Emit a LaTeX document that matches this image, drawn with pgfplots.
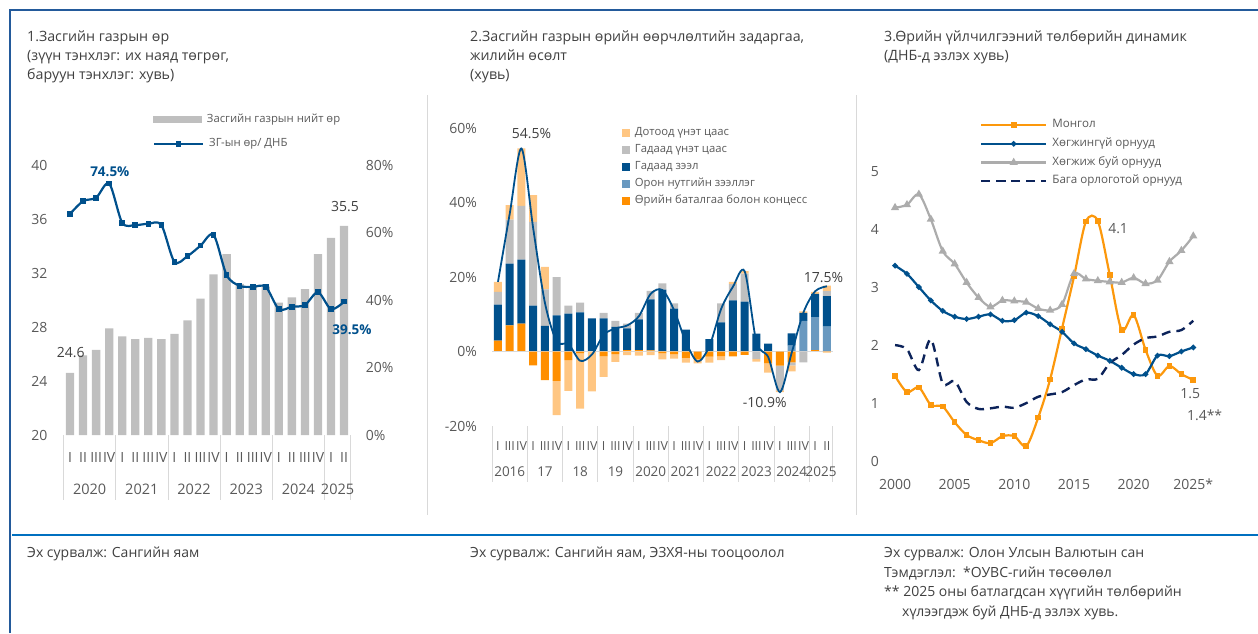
\documentclass[border=0pt]{standalone}
\usepackage{fontspec}
\setmainfont{Open Sans}
\usepackage{pgfplots}
\usepackage{pgfplotstable}
\pgfplotsset{compat=1.18}

\definecolor{txt}{RGB}{64,64,64}
\definecolor{tick}{RGB}{89,89,89}
\definecolor{frameblue}{RGB}{35,90,155}
\definecolor{ruleblue}{RGB}{0,112,192}
\definecolor{sepgrey}{RGB}{217,217,217}
\definecolor{bargrey}{RGB}{191,191,191}
\definecolor{dblue}{RGB}{0,80,140}
\definecolor{lorange}{RGB}{255,198,130}
\definecolor{gorange}{RGB}{255,143,0}
\definecolor{steel}{RGB}{105,153,192}
\definecolor{mnorange}{RGB}{252,152,12}
\definecolor{navy}{RGB}{12,35,90}
\definecolor{lgrey}{RGB}{172,172,172}

% Panel 2: positive parts
\pgfplotstableread{
k G L EL ES D
1 2.9 0 9.7 3.4 2.7
2 7.0 0 16.6 11.8 3.9
3 7.5 0 17.2 14.4 15.4
4 0 0 12.3 22.5 7.2
5 0 0 6.9 9.8 6.0
6 0 0 9.7 10.3 0
7 0 0 10.2 2.1 0
8 0 0 10.5 2.6 0
9 0 0 8.9 0 0
10 0 0 8.9 1.5 0
11 0 0 6.6 1.6 0
12 0.4 0 5.8 1.3 0
13 0.4 0 8.2 1.8 0
14 0.3 0 13.7 2.3 0
15 0 0 16.6 1.7 0
16 0 0 11.5 1.4 0
17 0 0 5.9 0 0
18 0 0 0 0 0
19 0 0 3.3 0 0
20 0 0 7.8 5.1 0
21 0 0 13.7 4.4 0.6
22 0 0 13.4 7.5 0.7
23 0 0 4.8 0 0
24 0 0 2.1 0 0
25 0 0 0 0 0
26 0 1.6 3.3 0 0
27 0 8.2 2.2 0 0.4
28 0.4 8.8 6.3 0 0.5
29 0 6.7 8.2 1.3 1.5
}\posdata

% Panel 2: negative parts
\pgfplotstableread{
k G ES D
1 0 0 0
2 0 0 0
3 0 0 0
4 -3.7 0 0
5 -7.7 0 0
6 -7.9 0 -9.2
7 -2.3 0 -8.3
8 -0.5 0 -14.8
9 0 0 -10.7
10 -1.3 0 -5.5
11 -0.7 0 -2.1
12 0 0 -1.0
13 0 0 -1.1
14 0 0 -1.0
15 -0.5 0 -1.6
16 -0.7 0 -1.2
17 -1.7 0 -1.3
18 -2.1 0 -1.1
19 -1.4 0 -1.6
20 -1.3 0 -1.0
21 -1.3 0 0
22 -0.9 0 0
23 0 -2.0 -0.7
24 -3.2 0 -2.5
25 -3.8 -6.6 -0.5
26 -2.9 -0.8 -1.6
27 0 -2.9 0
28 0 0 0
29 -0.2 0 0
}\negdata

% Panel 2: total growth line
\pgfplotstableread{
k tot
1 18.7
2 37.0
3 54.5
4 33.0
5 13.0
6 2.7
7 2.0
8 -2.5
9 -0.8
10 4.5
11 6.2
12 7.0
13 9.5
14 15.5
15 16.5
16 11.0
17 2.5
18 -2.7
19 1.5
20 11.5
21 17.4
22 21.5
23 2.5
24 -1.5
25 -10.9
26 -0.3
27 10.5
28 16.2
29 17.5
}\totdata

% Panel 3
\pgfplotstableread{
yr mn adv dev low
2000 1.48 3.38 4.38 2.01
2001 1.20 3.24 4.43 1.94
2002 1.28 3.01 4.61 1.58
2003 0.98 2.78 4.18 2.11
2004 0.95 2.60 3.63 1.35
2005 0.68 2.50 3.41 1.39
2006 0.46 2.46 3.09 1.03
2007 0.37 2.50 2.83 0.91
2008 0.32 2.54 2.67 0.92
2009 0.44 2.43 2.78 0.95
2010 0.44 2.44 2.77 0.93
2011 0.27 2.57 2.75 1.01
2012 0.76 2.51 2.64 1.12
2013 1.42 2.37 2.61 1.16
2014 2.30 2.24 2.71 1.20
2015 3.19 2.04 3.24 1.32
2016 4.14 1.94 3.15 1.42
2017 4.15 1.83 3.12 1.43
2018 3.22 1.74 3.10 1.70
2019 2.27 1.62 3.09 1.84
2020 2.53 1.51 3.17 2.02
2021 1.93 1.51 3.07 2.13
2022 1.48 1.83 3.13 2.16
2023 1.65 1.82 3.45 2.24
2024 1.51 1.90 3.64 2.27
2025 1.41 1.97 3.89 2.43
}\pthree

\pgfplotsset{
  common/.style={scale only axis, axis line style={draw=none}, major tick length=0pt,
    tick style={draw=none},
    tick label style={inner sep=0pt, text=tick, font=\fontsize{14}{16}\selectfont},
    /pgf/number format/assume math mode=true},
  p1/.style={common, at={(63.5pt,-435pt)}, anchor=south west, width=287.1pt, height=270pt, xmin=0.5, xmax=22.5},
  p2/.style={common, clip=false, at={(492.1pt,-426pt)}, anchor=south west, width=340.75pt, height=298pt, xmin=0.5, xmax=29.5, ymin=-20, ymax=60},
  lg/.style={legend style={draw=none, fill=none, inner sep=0pt, outer sep=0pt,
     font=\fontsize{11.3}{13}\selectfont, text=tick, column sep=5pt, row sep=0pt,
     nodes={inner sep=0pt, text height=11pt, text depth=6pt}}, legend cell align=left},
}

\begin{document}
\begin{tikzpicture}
\useasboundingbox (0pt,0pt) rectangle (1258pt,-633pt);
% frame
\draw[frameblue, line width=1.8pt] (10pt,-633pt) -- (10pt,-10pt) -- (1258pt,-10pt);
\draw[ruleblue, line width=1.2pt] (12pt,-535pt) -- (1258pt,-535pt);
\draw[sepgrey, line width=0.8pt] (427pt,-95pt) -- (427pt,-515pt);
\draw[sepgrey, line width=0.8pt] (856pt,-95pt) -- (856pt,-515pt);

% headers
\begin{scope}[every node/.style={anchor=base west, inner sep=0pt, text=txt, font=\fontsize{14.2}{16}\selectfont}]
\node at (27pt,-41.5pt) {1.Засгийн газрын өр};
\node at (27pt,-60.5pt) {(зүүн тэнхлэг: их наяд төгрөг,};
\node at (27pt,-79.5pt) {баруун тэнхлэг: хувь)};
\node at (470pt,-41.5pt) {2.Засгийн газрын өрийн өөрчлөлтийн задаргаа,};
\node at (470pt,-60.5pt) {жилийн өсөлт};
\node at (470pt,-79.5pt) {(хувь)};
\node at (884pt,-41.5pt) {3.Өрийн үйлчилгээний төлбөрийн динамик};
\node at (884pt,-60.5pt) {(ДНБ-д эзлэх хувь)};
\end{scope}
\begin{scope}[every node/.style={anchor=base west, inner sep=0pt, text=txt, font=\fontsize{14}{16}\selectfont}]
\node at (27pt,-557.5pt) {Эх сурвалж: Сангийн яам};
\node at (470pt,-557.5pt) {Эх сурвалж: Сангийн яам, ЭЗХЯ-ны тооцоолол};
\node at (884pt,-557.5pt) {Эх сурвалж: Олон Улсын Валютын сан};
\node at (884pt,-577pt) {Тэмдэглэл:\ \ *ОУВС-гийн төсөөлөл};
\node at (884pt,-596.5pt) {** 2025 оны батлагдсан хүүгийн төлбөрийн};
\node at (902pt,-616pt) {хүлээгдэж буй ДНБ-д эзлэх хувь.};
\end{scope}

% ===== Panel 1: bars (left axis)
\begin{axis}[p1, lg, ymin=20, ymax=40, ytick={20,24,28,32,36,40}, yticklabels={20,24,28,32,36,40},
  yticklabel shift=16pt,
  xtick={1,...,22}, xticklabels={I,II,III,IV,I,II,III,IV,I,II,III,IV,I,II,III,IV,I,II,III,IV,I,II},
  xticklabel shift=17pt,
  ybar, bar width=8.3pt,
  legend style={anchor=west, at={(0.3117,1.1667)}},
  legend image code/.code={\fill[#1] (0pt,-3.5pt) rectangle (49pt,3.5pt);}]
\addplot[fill=bargrey, draw=none] coordinates {(1,24.6) (2,25.9) (3,26.3) (4,27.9) (5,27.3) (6,27.1) (7,27.2) (8,27.1) (9,27.5) (10,28.5) (11,30.1) (12,31.9) (13,33.4) (14,31.2) (15,31.0) (16,31.0) (17,29.8) (18,30.2) (19,30.8) (20,33.4) (21,34.6) (22,35.5)};
\addlegendentry{Засгийн газрын нийт өр}
\end{axis}

% ===== Panel 1: line (right axis)
\begin{axis}[p1, lg, clip=false, ymin=0, ymax=80, ytick={0,20,40,60,80}, yticklabels={0\%,20\%,40\%,60\%,80\%},
  yticklabel pos=right, yticklabel shift=15pt, xtick=\empty,
  legend style={anchor=west, at={(0.3117,1.0778)}},
  legend image code/.code={\draw[#1, mark repeat=2, mark phase=2] plot coordinates {(0pt,0pt) (24.5pt,0pt) (49pt,0pt)};}]
\addplot[dblue, line width=2.2pt, smooth, mark=square*, mark size=1.7pt] coordinates {(1,65.5) (2,69.3) (3,70.3) (4,74.5) (5,62.9) (6,62.2) (7,62.6) (8,62.2) (9,51.3) (10,53.0) (11,56.1) (12,59.3) (13,47.4) (14,44.2) (15,43.9) (16,43.9) (17,37.3) (18,38.0) (19,38.5) (20,42.3) (21,37.3) (22,39.5)};
\addlegendentry{ЗГ-ын өр/ ДНБ}
\node[font=\bfseries\fontsize{13.5}{16}\selectfont, text=dblue] at (axis cs:4.05,74.5) [yshift=12pt] {74.5\%};
\node[font=\bfseries\fontsize{13.5}{16}\selectfont, text=dblue] at (axis cs:22.6,39.5) [yshift=-28pt] {39.5\%};
\node[font=\fontsize{14}{16}\selectfont, text=txt] at (axis cs:1.05,24.3) {24.6};
\node[font=\fontsize{14}{16}\selectfont, text=txt] at (axis cs:22.07,67.6) {35.5};
\foreach \s in {0.5,4.5,8.5,12.5,16.5,20.5,22.5} {
  \edef\tmp{\noexpand\draw[sepgrey, line width=0.8pt] (axis cs:\s,0) -- ++(0pt,-65pt);}\tmp
}
\begin{scope}[every node/.style={text=tick, font=\fontsize{14.5}{16}\selectfont}]
\node at (axis cs:2.5,0) [yshift=-54pt] {2020};
\node at (axis cs:6.5,0) [yshift=-54pt] {2021};
\node at (axis cs:10.5,0) [yshift=-54pt] {2022};
\node at (axis cs:14.5,0) [yshift=-54pt] {2023};
\node at (axis cs:18.5,0) [yshift=-54pt] {2024};
\node at (axis cs:21.5,0) [yshift=-54pt] {2025};
\end{scope}
\end{axis}

% ===== Panel 2: positive stack
\begin{axis}[p2, lg, ybar stacked, bar width=8pt, xtick=\empty, ytick=\empty, reverse legend,
  legend style={anchor=north west, at={(0.381,1.012)}},
  legend image code/.code={\fill[#1] (0pt,-4pt) rectangle (8pt,4pt);}]
\draw[sepgrey, line width=0.8pt] (axis cs:0.5,0) -- (axis cs:29.5,0);
\addplot[fill=gorange, draw=none] table[x=k, y=G] {\posdata};
\addlegendentry{Өрийн баталгаа болон концесс}
\addplot[fill=steel, draw=none] table[x=k, y=L] {\posdata};
\addlegendentry{Орон нутгийн зээллэг}
\addplot[fill=dblue, draw=none] table[x=k, y=EL] {\posdata};
\addlegendentry{Гадаад зээл}
\addplot[fill=bargrey, draw=none] table[x=k, y=ES] {\posdata};
\addlegendentry{Гадаад үнэт цаас}
\addplot[fill=lorange, draw=none] table[x=k, y=D] {\posdata};
\addlegendentry{Дотоод үнэт цаас}
\end{axis}

% ===== Panel 2: negative stack
\begin{axis}[p2, ybar stacked, bar width=8pt, xtick=\empty, ytick=\empty]
\addplot[fill=gorange, draw=none] table[x=k, y=G] {\negdata};
\addplot[fill=bargrey, draw=none] table[x=k, y=ES] {\negdata};
\addplot[fill=lorange, draw=none] table[x=k, y=D] {\negdata};
\end{axis}

% ===== Panel 2: line and axes
\begin{axis}[p2, ytick={-20,0,20,40,60}, yticklabels={-20\%,0\%,20\%,40\%,60\%}, yticklabel shift=15pt,
  xtick={1,...,29}, xticklabels={I,III,IV,I,III,IV,I,III,IV,I,III,IV,I,III,IV,I,III,IV,I,III,IV,I,III,IV,I,III,IV,I,II},
  xticklabel shift=15.5pt, xticklabel style={font=\fontsize{12.5}{14}\selectfont}]
\addplot[dblue, line width=1.8pt, smooth] table[x=k, y=tot] {\totdata};
\foreach \s in {0.5,3.5,6.5,9.5,12.5,15.5,18.5,21.5,24.5,27.5,29.5} {
  \edef\tmp{\noexpand\draw[sepgrey, line width=0.8pt] (axis cs:\s,-20) -- ++(0pt,-56pt);}\tmp
}
\begin{scope}[every node/.style={text=tick, font=\fontsize{13.5}{16}\selectfont}]
\node at (axis cs:2,-20) [yshift=-46pt] {2016};
\node at (axis cs:5,-20) [yshift=-46pt] {17};
\node at (axis cs:8,-20) [yshift=-46pt] {18};
\node at (axis cs:11,-20) [yshift=-46pt] {19};
\node at (axis cs:14,-20) [yshift=-46pt] {2020};
\node at (axis cs:17,-20) [yshift=-46pt] {2021};
\node at (axis cs:20,-20) [yshift=-46pt] {2022};
\node at (axis cs:23,-20) [yshift=-46pt] {2023};
\node at (axis cs:26,-20) [yshift=-46pt] {2024};
\node at (axis cs:28.5,-20) [yshift=-46pt] {2025};
\end{scope}
\begin{scope}[every node/.style={text=txt, font=\fontsize{14}{16}\selectfont}]
\node at (axis cs:3.85,54.5) [yshift=15pt] {54.5\%};
\node at (axis cs:28.7,17.5) [yshift=9pt] {17.5\%};
\node at (axis cs:23.7,-10.9) [yshift=-10.5pt] {-10.9\%};
\end{scope}
\end{axis}

% ===== Panel 3
\begin{axis}[common, lg, clip=false, at={(883.1pt,-461.7pt)}, anchor=south west, width=322.1pt, height=290pt,
  xmin=1999, xmax=2026, ymin=0, ymax=5,
  xtick={2000,2005,2010,2015,2020,2025}, xticklabels={2000,2005,2010,2015,2020,2025*},
  ytick={0,1,2,3,4,5}, yticklabels={0,1,2,3,4,5},
  xticklabel shift=17.3pt, yticklabel shift=4pt,
  legend style={anchor=north west, at={(0.3008,1.19)}, row sep=1.7pt, font=\fontsize{11.6}{13}\selectfont},
  legend image code/.code={\draw[#1, mark repeat=2, mark phase=2] plot coordinates {(0pt,0pt) (32.5pt,0pt) (65pt,0pt)};}]
\addplot[mnorange, line width=2.2pt, smooth, mark=square*, mark size=1.7pt] table[x=yr, y=mn] {\pthree};
\addlegendentry{Монгол}
\addplot[dblue, line width=2.2pt, smooth, mark=*, mark size=1.5pt] table[x=yr, y=adv] {\pthree};
\addlegendentry{Хөгжингүй орнууд}
\addplot[lgrey, line width=2.2pt, smooth, mark=triangle*, mark size=2.6pt] table[x=yr, y=dev] {\pthree};
\addlegendentry{Хөгжиж буй орнууд}
\addplot[navy, line width=2.4pt, smooth, dash pattern=on 9pt off 6pt] table[x=yr, y=low] {\pthree};
\addlegendentry{Бага орлоготой орнууд}
\begin{scope}[every node/.style={text=tick, font=\fontsize{14}{16}\selectfont}]
\node at (axis cs:2018.7,4.02) {4.1};
\node at (axis cs:2024.75,1.17) {1.5};
\node at (axis cs:2025.95,0.8) {1.4**};
\end{scope}
\end{axis}
\end{tikzpicture}
\end{document}
